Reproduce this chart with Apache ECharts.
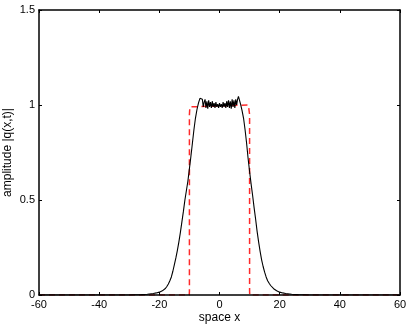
<!DOCTYPE html>
<html>
<head>
<meta charset="utf-8">
<script src="https://cdn.jsdelivr.net/npm/echarts@6/dist/echarts.min.js"></script>
<style>
html,body{margin:0;padding:0;background:#fff;}
#c{width:411px;height:326px;}
</style>
</head>
<body>
<div id="c"></div>
<script>
var xTicks = [-60, -40, -20, 0, 20, 40, 60];
var yTicks = [0, 0.5, 1, 1.5];

var solutionX = [-60, -40, -30, -28, -26, -24, -22, -21, -20, -19, -18, -17.5, -17, -16.5, -16, -15.5, -15, -14.5, -14, -13.5, -13, -12.5, -12, -11.5, -11, -10.5, -10, -9.5, -9, -8.5, -8, -7.5, -7, -6.5, -6, -5.7, -5.4, -5.1, -4.8, -4.5, -4.2, -3.9, -3.6, -3.3, -3.0, -2.7, -2.4, -2.1, -1.8, -1.5, -1.2, -0.9, -0.6, -0.3, 0, 0.3, 0.6, 0.9, 1.2, 1.5, 1.8, 2.1, 2.4, 2.7, 3.0, 3.3, 3.6, 3.9, 4.2, 4.5, 4.8, 5.1, 5.4, 5.7, 6.0, 6.3, 6.6, 7.0, 7.5, 8, 8.5, 9, 9.5, 10, 10.5, 11, 11.5, 12, 12.5, 13, 13.5, 14, 14.5, 15, 15.5, 16, 16.5, 17, 18, 19, 20, 21, 22, 24, 26, 28, 30, 40, 60];
var solutionY = [0, 0, 0, 0.001, 0.002, 0.004, 0.008, 0.011, 0.015, 0.022, 0.034, 0.045, 0.058, 0.075, 0.095, 0.125, 0.16, 0.195, 0.235, 0.28, 0.33, 0.385, 0.44, 0.5, 0.55, 0.6, 0.665, 0.73, 0.80, 0.87, 0.93, 0.975, 1.01, 1.035, 1.045, 1.03, 0.99, 1.015, 1.03, 0.985, 1.02, 0.98, 1.025, 0.99, 1.015, 0.985, 1.02, 0.99, 1.01, 0.985, 1.015, 0.99, 1.005, 0.985, 1.01, 0.99, 1.005, 0.985, 1.015, 0.99, 1.01, 0.985, 1.02, 0.99, 1.025, 0.985, 1.02, 0.98, 1.03, 0.99, 1.025, 0.985, 1.03, 1.0, 1.03, 1.045, 1.035, 1.005, 0.97, 0.93, 0.87, 0.80, 0.72, 0.65, 0.585, 0.525, 0.46, 0.40, 0.335, 0.28, 0.23, 0.185, 0.15, 0.12, 0.095, 0.075, 0.062, 0.05, 0.033, 0.022, 0.015, 0.011, 0.008, 0.004, 0.002, 0.001, 0, 0, 0];

var initialX = [-60, -10.05, -10, -10, -9.85, -9.6, 9.6, 9.85, 10, 10, 10.05, 60];
var initialY = [0, 0, 0.02, 0.95, 0.99, 1, 1, 0.99, 0.95, 0.02, 0, 0];

function pairs(xs, ys) {
  var out = [];
  for (var i = 0; i < xs.length; i++) out.push([xs[i], ys[i]]);
  return out;
}

var chart = echarts.init(document.getElementById('c'), null, {renderer: 'canvas'});
var font = 'Liberation Sans, Arial, Helvetica, sans-serif';
var axLine = {show: true, onZero: false, lineStyle: {color: '#000', width: 1.5}};
var tick = {show: true, inside: true, length: 3, lineStyle: {color: '#000', width: 1}};

chart.setOption({
  animation: false,
  backgroundColor: '#fff',
  grid: {left: 39, right: 11, top: 10, bottom: 31, containLabel: false, outerBoundsMode: 'none'},
  xAxis: [{
    type: 'value', min: xTicks[0], max: xTicks[xTicks.length - 1], interval: 20,
    position: 'bottom', z: 10,
    name: 'space x', nameLocation: 'middle', nameGap: 17, nameMoveOverlap: false,
    nameTextStyle: {fontFamily: font, fontSize: 12, color: '#000'},
    axisLine: axLine, axisTick: tick,
    axisLabel: {fontFamily: font, fontSize: 11, color: '#000', margin: 4},
    splitLine: {show: false}
  }, {
    type: 'value', min: xTicks[0], max: xTicks[xTicks.length - 1], interval: 20,
    position: 'top', z: 10,
    axisLine: axLine, axisTick: tick, axisLabel: {show: false}, splitLine: {show: false}
  }],
  yAxis: [{
    type: 'value', min: yTicks[0], max: yTicks[yTicks.length - 1], interval: 0.5,
    position: 'left', z: 10,
    name: 'amplitude |q(x,t)|', nameLocation: 'middle', nameGap: 25, nameRotate: 90,
    nameMoveOverlap: false,
    nameTextStyle: {fontFamily: font, fontSize: 12, color: '#000'},
    axisLine: axLine, axisTick: tick,
    axisLabel: {fontFamily: font, fontSize: 11, color: '#000', margin: 4,
      formatter: function (v) { return String(v); }},
    splitLine: {show: false}
  }, {
    type: 'value', min: yTicks[0], max: yTicks[yTicks.length - 1], interval: 0.5,
    position: 'right', z: 10,
    axisLine: axLine, axisTick: tick, axisLabel: {show: false}, splitLine: {show: false}
  }],
  series: [{
    type: 'line', data: pairs(initialX, initialY), showSymbol: false, symbol: 'none',
    lineStyle: {color: '#ff2a2a', width: 1.5, type: [6, 4]}, z: 2, silent: true
  }, {
    type: 'line', data: pairs(solutionX, solutionY), showSymbol: false, symbol: 'none',
    smooth: false,
    lineStyle: {color: '#000', width: 1.1}, z: 3, silent: true
  }]
});
</script>
</body>
</html>
